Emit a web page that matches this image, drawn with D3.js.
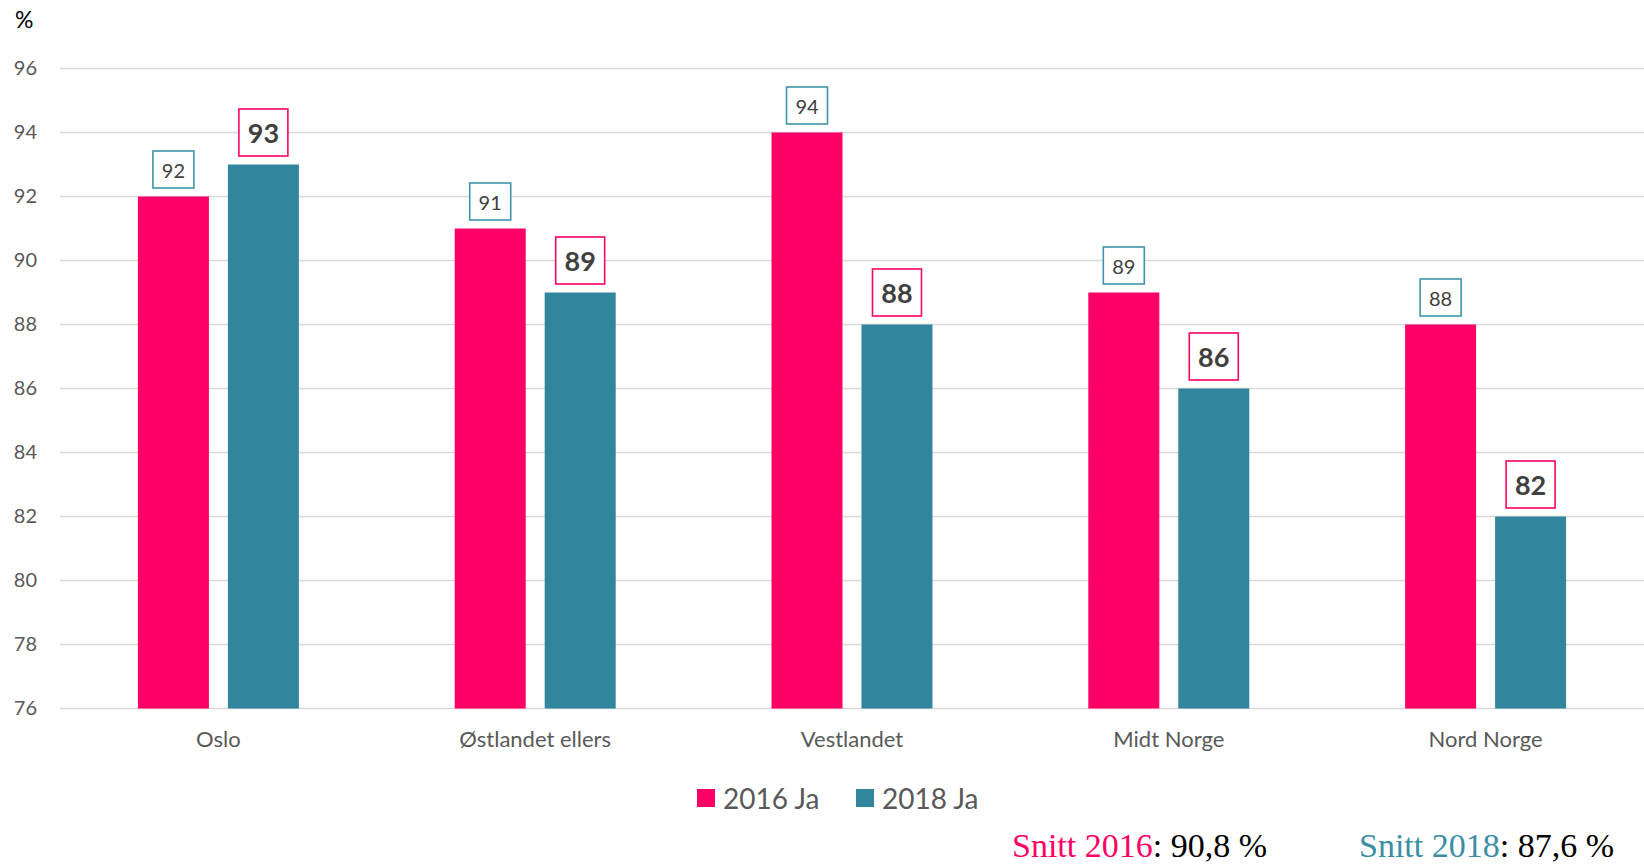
<!DOCTYPE html>
<html>
<head>
<meta charset="utf-8">
<script src="https://cdn.jsdelivr.net/npm/d3@7"></script>
<style>
  html, body { margin: 0; padding: 0; background: #fff; }
  svg { display: block; }
</style>
</head>
<body>
<svg id="chart" width="1644" height="868"></svg>
<script>
// Regions and yes-shares (%) per survey year
const categories = ["Oslo", "Østlandet ellers", "Vestlandet", "Midt Norge", "Nord Norge"];
const seriesNames = ["2016 Ja", "2018 Ja"];
const values2016 = [92, 91, 94, 89, 88];
const values2018 = [93, 89, 88, 86, 82];
const yTicks = [76, 78, 80, 82, 84, 86, 88, 90, 92, 94, 96];
const averages = [
  { label: "Snitt 2016", value: "90,8 %" },
  { label: "Snitt 2018", value: "87,6 %" }
];

const colors = { "2016 Ja": "#FF0066", "2018 Ja": "#31859C" };
const labelBorder = { "2016 Ja": "#3F95AB", "2018 Ja": "#FF0066" };

const svg = d3.select("#chart");
const sans = "Lato, 'Open Sans', sans-serif";

const x0 = d3.scaleBand().domain(categories).range([60, 1644]).padding(0);
const x1 = d3.scaleBand().domain(seriesNames).range([0, x0.bandwidth()])
  .paddingInner(0.211).paddingOuter(0.866);
const y = d3.scaleLinear().domain([76, 96]).range([708.5, 68.5]);

// Horizontal gridlines
svg.append("g").selectAll("line").data(yTicks).join("line")
  .attr("x1", 60).attr("x2", 1644)
  .attr("y1", d => y(d)).attr("y2", d => y(d))
  .attr("stroke", "#D9D9D9").attr("stroke-width", 1.5);

// Y axis labels
const yAxis = d3.axisLeft(y).tickValues(yTicks).tickSize(0).tickPadding(0);
const gy = svg.append("g").attr("transform", "translate(37,0)").call(yAxis);
gy.select(".domain").remove();
gy.selectAll("text")
  .attr("font-family", sans).attr("font-size", 20).attr("fill", "#595959");

// Unit label
svg.append("text").attr("x", 15).attr("y", 28)
  .attr("font-family", sans).attr("font-size", 23).attr("fill", "#000").text("%");

// Category labels
const xAxis = d3.axisBottom(x0).tickSize(0).tickPadding(0);
const gx = svg.append("g").attr("transform", "translate(0,731)").call(xAxis);
gx.select(".domain").remove();
gx.selectAll("text")
  .attr("font-family", sans).attr("font-size", 22).attr("fill", "#595959");

// Bars
const rows = categories.map((c, i) => ({
  cat: c,
  items: [
    { s: "2016 Ja", v: values2016[i] },
    { s: "2018 Ja", v: values2018[i] }
  ]
}));

const groups = svg.append("g").selectAll("g").data(rows).join("g")
  .attr("transform", d => `translate(${x0(d.cat)},0)`);

groups.selectAll("rect.bar").data(d => d.items).join("rect")
  .attr("class", "bar")
  .attr("x", d => x1(d.s))
  .attr("width", x1.bandwidth())
  .attr("y", d => y(d.v))
  .attr("height", d => y(76) - y(d.v))
  .attr("fill", d => colors[d.s]);

// Value labels in framed boxes
groups.each(function(row) {
  const g = d3.select(this);
  row.items.forEach(d => {
    const bold = d.s === "2018 Ja";
    const cx = x1(d.s) + x1.bandwidth() / 2;
    const cy = y(d.v) - (bold ? 32 : 27);
    const boxW = bold ? 49 : 41;
    const boxH = bold ? 47 : 37;
    g.append("rect")
      .attr("x", cx - boxW / 2).attr("y", cy - boxH / 2)
      .attr("width", boxW).attr("height", boxH)
      .attr("fill", "#fff")
      .attr("stroke", labelBorder[d.s]).attr("stroke-width", 1.6);
    g.append("text")
      .attr("x", cx).attr("y", cy)
      .attr("text-anchor", "middle").attr("dominant-baseline", "central")
      .attr("font-family", sans)
      .attr("font-size", bold ? 27 : 20)
      .attr("font-weight", bold ? 700 : 400)
      .attr("fill", "#404040")
      .text(d.v);
  });
});

// Legend
const legendX = [697, 856];
const legend = svg.append("g").selectAll("g").data(seriesNames).join("g")
  .attr("transform", (d, i) => `translate(${legendX[i]},789)`);
legend.append("rect").attr("width", 18).attr("height", 18).attr("fill", d => colors[d]);
legend.append("text").attr("x", 26).attr("y", 9)
  .attr("dominant-baseline", "central")
  .attr("font-family", sans).attr("font-size", 28).attr("fill", "#595959")
  .text(d => d);

// Averages line
const avgX = [1012, 1359];
const avgColors = ["#FF0066", "#3A8FA5"];
const avg = svg.append("g").selectAll("text").data(averages).join("text")
  .attr("x", (d, i) => avgX[i]).attr("y", 857)
  .attr("font-family", "'Liberation Serif', 'DejaVu Serif', serif")
  .attr("font-size", 34).attr("fill", "#000");
avg.append("tspan").attr("fill", (d, i) => avgColors[i]).text(d => d.label);
avg.append("tspan").text(d => ": " + d.value);
</script>
</body>
</html>
